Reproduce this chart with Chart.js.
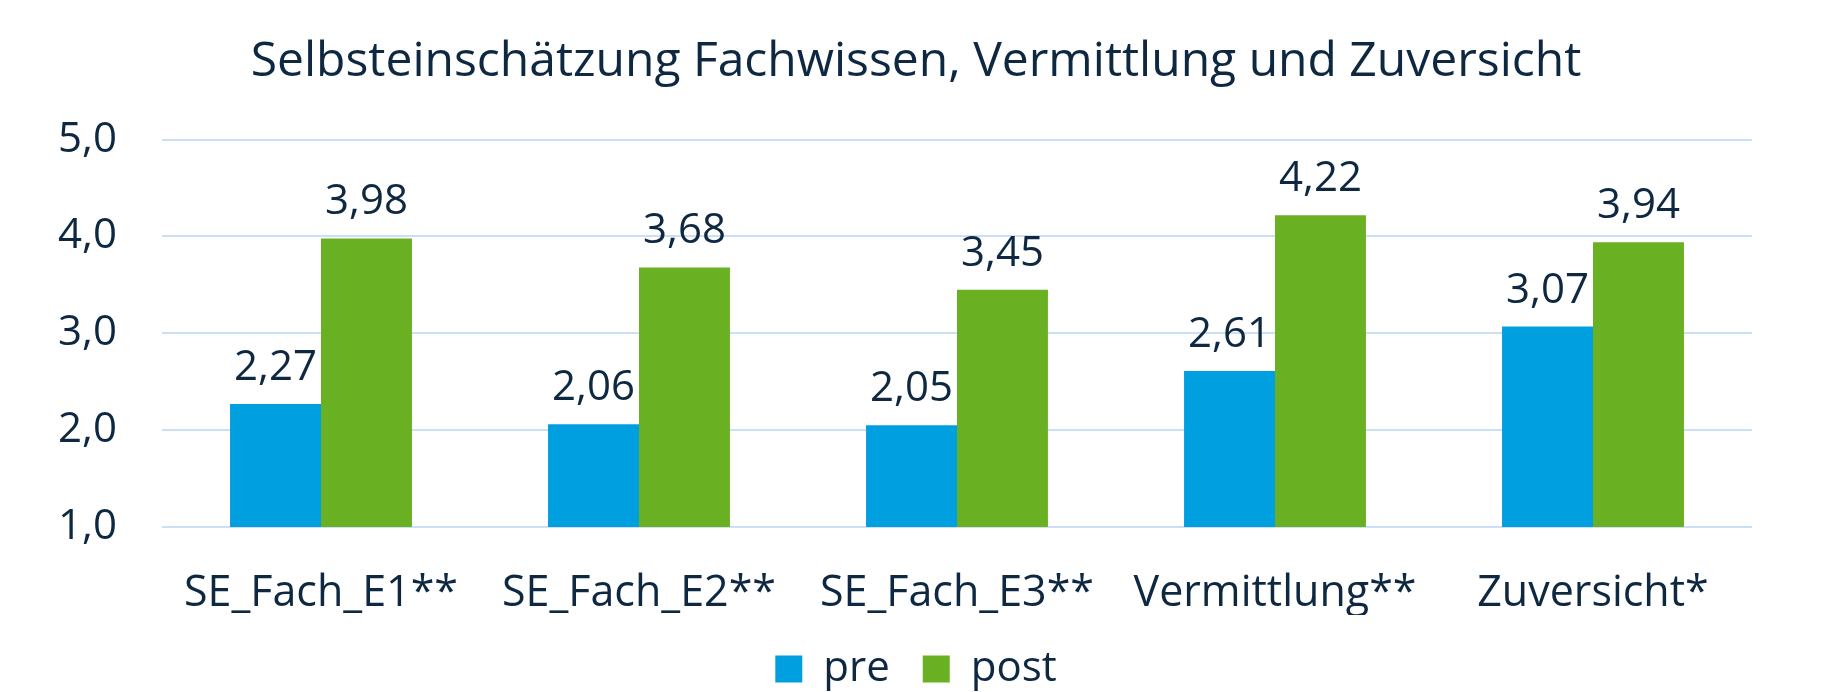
<!DOCTYPE html>
<html>
<head>
<meta charset="utf-8">
<script src="https://cdn.jsdelivr.net/npm/chart.js@4.4.1/dist/chart.umd.min.js"></script>
<style>
  html, body { margin: 0; padding: 0; background: #ffffff; }
  #wrap { width: 1832px; height: 692px; position: relative; }
</style>
</head>
<body>
<div id="wrap"><canvas id="c" width="1832" height="692"></canvas></div>
<script>
const categories = ["SE_Fach_E1**", "SE_Fach_E2**", "SE_Fach_E3**", "Vermittlung**", "Zuversicht*"];
const preValues = [2.27, 2.06, 2.05, 2.61, 3.07];
const postValues = [3.98, 3.68, 3.45, 4.22, 3.94];
const seriesNames = ["pre", "post"];
const yTicks = [1, 2, 3, 4, 5];
const titleText = "Selbsteinschätzung Fachwissen, Vermittlung und Zuversicht";

const TEXT = "#0E2841";
const FONT = "'Open Sans', 'Noto Sans', sans-serif";
const fmt = v => v.toFixed(2).replace(".", ",");

const valueLabels = {
  id: "valueLabels",
  afterDatasetsDraw(chart) {
    const ctx = chart.ctx;
    ctx.save();
    ctx.fillStyle = TEXT;
    ctx.font = "42px " + FONT;
    ctx.textAlign = "center";
    ctx.textBaseline = "alphabetic";
    chart.data.datasets.forEach((ds, i) => {
      chart.getDatasetMeta(i).data.forEach((bar, j) => {
        ctx.fillText(fmt(ds.data[j]), bar.x, bar.y - 24);
      });
    });
    ctx.restore();
  }
};

const legendHeight = {
  id: "legendHeight",
  afterInit(chart) {
    const lg = chart.legend;
    if (!lg) return;
    const orig = lg.fit.bind(lg);
    lg.fit = function () { orig(); this.height = 77; };
  }
};

new Chart(document.getElementById("c"), {
  type: "bar",
  data: {
    labels: categories,
    datasets: [
      { label: seriesNames[0], data: preValues, backgroundColor: "#009FE0" },
      { label: seriesNames[1], data: postValues, backgroundColor: "#6AB023" }
    ]
  },
  options: {
    responsive: false,
    animation: false,
    devicePixelRatio: 1,
    layout: { padding: 0 },
    datasets: { bar: { barPercentage: 1.0, categoryPercentage: 0.572, borderWidth: 0 } },
    plugins: {
      title: {
        display: true,
        text: titleText,
        color: TEXT,
        font: { family: FONT, size: 48, weight: "normal" },
        padding: { top: 34, bottom: 48 }
      },
      legend: {
        position: "bottom",
        labels: {
          color: TEXT,
          font: { family: FONT, size: 42 },
          boxWidth: 27,
          boxHeight: 27,
          padding: 33
        }
      },
      tooltip: { enabled: false }
    },
    scales: {
      x: {
        grid: { display: false, drawTicks: false },
        border: { display: false },
        ticks: { color: TEXT, font: { family: FONT, size: 43 }, padding: 41, maxRotation: 0 },
        afterFit(s) { s.height = 88; }
      },
      y: {
        min: 1, max: 5,
        grid: { color: "#CBE0F6", lineWidth: 2, drawTicks: false },
        border: { display: false },
        afterBuildTicks(s) { s.ticks = yTicks.map(v => ({ value: v })); },
        ticks: {
          color: TEXT,
          font: { family: FONT, size: 42 },
          padding: 45,
          callback: v => v.toFixed(1).replace(".", ",")
        },
        afterFit(s) { s.width = 162; }
      },
      yRight: {
        position: "right",
        display: true,
        min: 1, max: 5,
        grid: { display: false, drawTicks: false },
        border: { display: false },
        ticks: { display: false },
        afterFit(s) { s.width = 80; }
      }
    }
  },
  plugins: [valueLabels, legendHeight]
});
</script>
</body>
</html>
